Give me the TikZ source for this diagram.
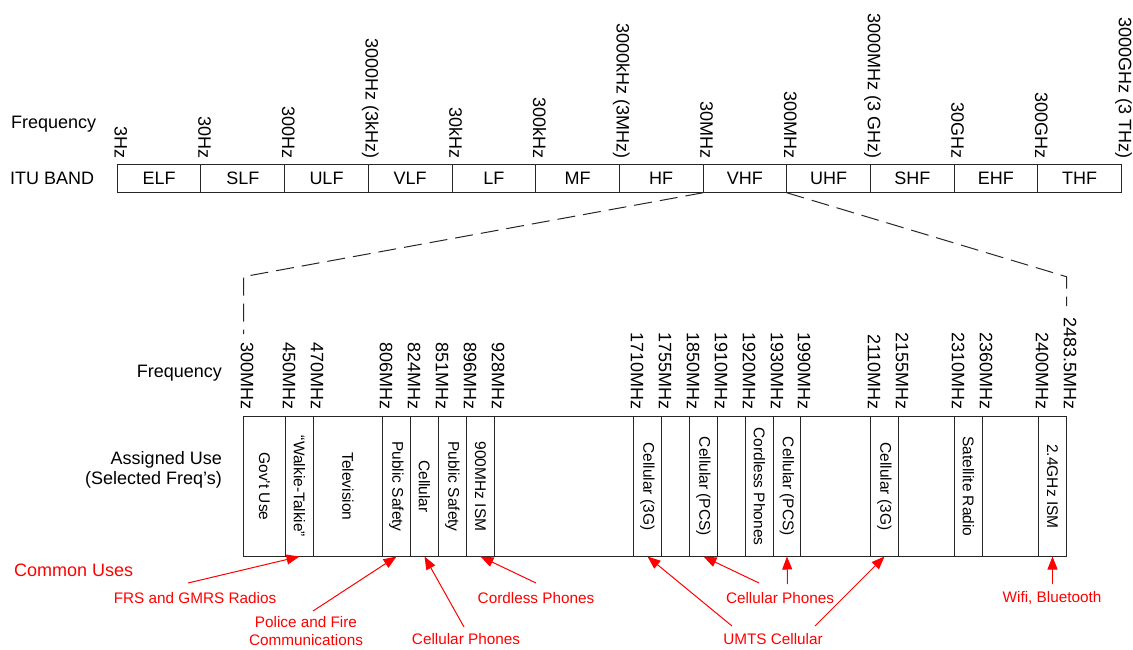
\documentclass[tikz,border=0pt]{standalone}
\usepackage{fontspec}
\setmainfont{Liberation Sans}
\usetikzlibrary{arrows.meta,calc}
\begin{document}
\begin{tikzpicture}[x=1pt,y=-1pt,
  lbl/.style={font=\fontsize{18}{20}\selectfont, inner sep=0pt},
  freq/.style={lbl, rotate=-90, anchor=mid east},
  band/.style={outer sep=0pt, minimum width=83.68pt, minimum height=28.7pt, inner sep=0pt, font=\fontsize{18}{20}\selectfont},
  bandline/.style={draw=black!85, line width=1pt},
  use/.style={outer sep=0pt, rotate=-90, minimum width=140pt, inner sep=0pt, font=\fontsize{15.5}{17}\selectfont},
  useline/.style={draw=black!85, line width=1.2pt},
  note/.style={text=red, font=\fontsize{15.3}{17.3}\selectfont, inner sep=0pt, align=center},
  ptr/.style={draw=red, line width=1pt, -{Triangle[length=13pt,width=10pt]}},
  zoomline/.style={draw=black!85, line width=1pt, dash pattern=on 18pt off 8pt}
]
\useasboundingbox (0,0) rectangle (1133,649);

% ---------- upper ITU band ----------
\node[lbl, anchor=west] (freqA) at (11,124) {Frequency};
\node[lbl, anchor=west] (itu) at (10,178) {ITU BAND};
\foreach \n [count=\i from 0] in {ELF,SLF,ULF,VLF,LF,MF,HF,VHF,UHF,SHF,EHF,THF}
  \node[band] (\n) at ({117.3+83.68*(\i+0.5)},178.4) {\n};
\draw[bandline] (ELF.north west) rectangle (THF.south east);
\foreach \n in {ELF,SLF,ULF,VLF,LF,MF,HF,VHF,UHF,SHF,EHF}
  \draw[bandline] (\n.north east) -- (\n.south east);
\foreach \t [count=\i from 0] in {3Hz,30Hz,300Hz,3000Hz (3kHz),30kHz,300kHz,3000kHz (3MHz),30MHz,300MHz,3000MHz (3 GHz),30GHz,300GHz,3000GHz (3 THz)}
  \node[freq] (tf\i) at ({117.3+83.68*\i},159) {\t};

% ---------- zoom connectors ----------
\coordinate (zl1) at (243.5,276.7);
\coordinate (zl2) at (243.5,334);
\coordinate (zr1) at (1066.5,276.7);
\coordinate (zr2) at (1066.5,306);
\draw[zoomline] (HF.south east) -- (zl1) -- (zl2);
\draw[zoomline] (UHF.south west) -- (zr1) -- (zr2);

% ---------- lower assigned-use chart ----------
\node[lbl, anchor=east] (freqB) at (222,373) {Frequency};
\node[lbl, anchor=east, align=right, font=\fontsize{18}{20.5}\selectfont] (assigned) at (222,470) {Assigned Use\\(Selected Freq’s)};

\foreach \x/\t [count=\i from 0] in {243.5/300MHz,285.5/450MHz,313.5/470MHz,382.5/806MHz,410.5/824MHz,438.5/851MHz,466.5/896MHz,494.5/928MHz,633.5/1710MHz,661.5/1755MHz,689.5/1850MHz,717.5/1910MHz,745.5/1920MHz,773.5/1930MHz,800.5/1990MHz,870.5/2110MHz,898.5/2155MHz,954.5/2310MHz,982.5/2360MHz,1038.5/2400MHz,1066.5/2483.5MHz}
  \node[freq] (lf\i) at (\x,410) {\t};

\foreach \a/\b/\t [count=\i from 0] in {243.5/285.5/Gov’t Use,285.5/313.5/“Walkie-Talkie”,313.5/382.5/Television,382.5/410.5/Public Safety,410.5/438.5/Cellular,438.5/466.5/Public Safety,466.5/494.5/900MHz ISM,494.5/633.5/,633.5/661.5/Cellular (3G),661.5/689.5/,689.5/717.5/Cellular (PCS),717.5/745.5/,745.5/773.5/Cordless Phones,773.5/800.5/Cellular (PCS),800.5/870.5/,870.5/898.5/Cellular (3G),898.5/954.5/,954.5/982.5/Satellite Radio,982.5/1038.5/,1038.5/1066.5/2.4GHz ISM}
{
  \pgfmathsetmacro\w{\b-\a}
  \node[use, minimum height=\w pt] (u\i) at ({(\a+\b)/2},486.5) {\t};
}
% outline drawn once; in the rotated cells "north" is the right side
\draw[useline] (u0.south west) rectangle (u19.north east);
\foreach \i in {0,...,18}
  \draw[useline] (u\i.north west) -- (u\i.north east);

% ---------- common uses ----------
\node[anchor=west, text=red, font=\fontsize{18}{20}\selectfont, inner sep=0pt] (common) at (14,570) {Common Uses};
\node[note] (frs) at (195,598) {FRS and GMRS Radios};
\node[note] (police) at (306,631) {Police and Fire\\Communications};
\node[note] (cell1) at (466,639.5) {Cellular Phones};
\node[note] (cordless) at (536,598) {Cordless Phones};
\node[note] (cell2) at (780,598) {Cellular Phones};
\node[note] (umts) at (773,639.5) {UMTS Cellular};
\node[note] (wifi) at (1052,598) {Wifi, Bluetooth};

\coordinate (sfrs) at (188,583);
\coordinate (spol) at (313,611);
\coordinate (scell1) at (464,627);
\coordinate (scord) at (536,583);
\coordinate (sumtsL) at (732,626);
\coordinate (sumtsR) at (815,626);
\coordinate (scell2a) at (759,583);
\coordinate (scell2b) at (787.5,584);
\coordinate (swifi) at (1052.5,584);

\draw[ptr] (sfrs) -- (u1.east);
\draw[ptr] (spol) -- (u3.east);
\draw[ptr] (scell1) -- (u4.east);
\draw[ptr] (scord) -- (u6.east);
\draw[ptr] (sumtsL) -- (u8.east);
\draw[ptr] (sumtsR) -- (u15.east);
\draw[ptr] (scell2a) -- (u10.east);
\draw[ptr] (scell2b) -- (u13.east);
\draw[ptr] (swifi) -- (u19.east);
\end{tikzpicture}
\end{document}
